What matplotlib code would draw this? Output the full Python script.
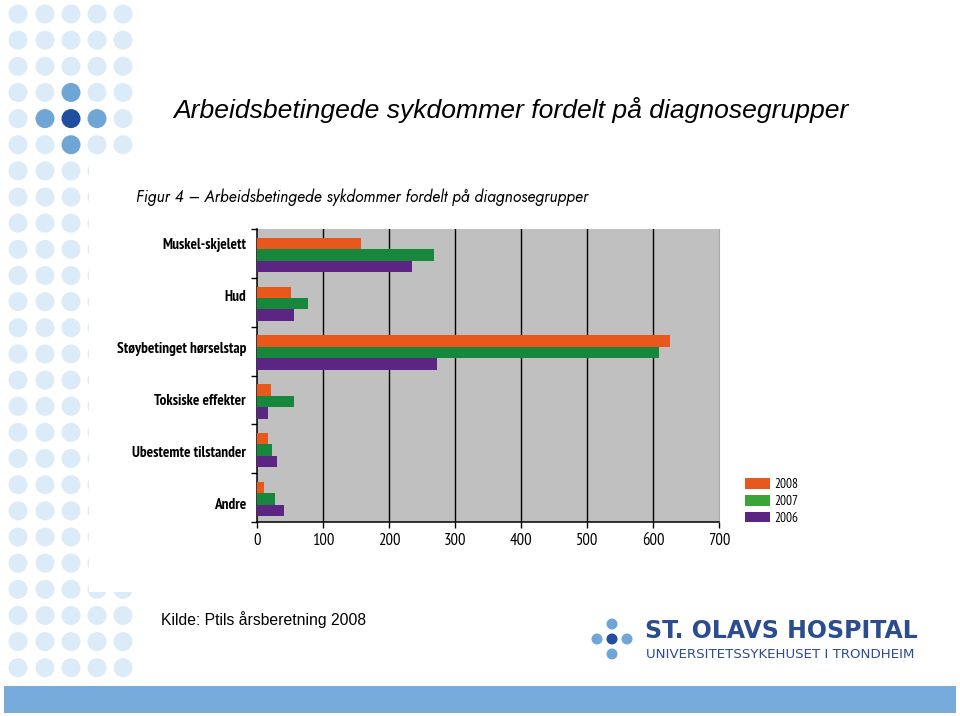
import matplotlib
matplotlib.use("Agg")
import matplotlib.pyplot as plt
from matplotlib.patches import Circle, Rectangle, Patch
import numpy as np

W, H = 960, 716

# data
categories = ["Muskel-skjelett", "Hud", "Støybetinget hørselstap",
              "Toksiske effekter", "Ubestemte tilstander", "Andre"]
years = ["2008", "2007", "2006"]
values_2008 = [157, 51, 626, 21, 17, 10]
values_2007 = [268, 78, 609, 56, 23, 28]
values_2006 = [235, 56, 273, 17, 30, 41]
x_ticks = [0, 100, 200, 300, 400, 500, 600, 700]

BAR_COLORS = ["#e8581d", "#17873b", "#5c2483"]
LEGEND_COLORS = ["#e8581d", "#38a536", "#5c2483"]
NARROW = ["PT Sans Narrow", "DejaVu Sans"]
ARIAL = ["Liberation Sans", "DejaVu Sans"]
GEOMETRIC = ["Jost", "DejaVu Sans"]


def fig_box(x0, y0, x1, y1):
    # pixel box (top-left origin) -> figure fraction
    return [x0 / W, 1 - y1 / H, (x1 - x0) / W, (y1 - y0) / H]


fig = plt.figure(figsize=(W / 100, H / 100), dpi=100)
fig.patch.set_facecolor("white")

# background layer in pixel coordinates
bg = fig.add_axes([0, 0, 1, 1], zorder=0)
bg.set_xlim(0, W)
bg.set_ylim(H, 0)
bg.axis("off")

# decorative dots
dot_cols = [18, 45, 71, 97, 123]
dot_rows = [14 + 26.15 * i for i in range(26)]
highlight = {(2, 3): "#6fa6d6", (1, 4): "#6fa6d6", (2, 4): "#1f4f9e",
             (3, 4): "#6fa6d6", (2, 5): "#6fa6d6"}
for ci, cx in enumerate(dot_cols):
    for ri, cy in enumerate(dot_rows):
        c = highlight.get((ci, ri), "#dcebf8")
        bg.add_patch(Circle((cx, cy), 9.5, facecolor=c, edgecolor="none"))

# white chart image area over the dots
bg.add_patch(Rectangle((89, 158), 771, 434, facecolor="white", edgecolor="none", zorder=3))

# bottom band
bg.add_patch(Rectangle((4, 686), 952, 27, facecolor="#76abdb", edgecolor="none", zorder=3))

# slide title
bg.text(173, 110, "Arbeidsbetingede sykdommer fordelt på diagnosegrupper",
        fontsize=19.05, style="italic", family=ARIAL, va="center", ha="left", zorder=5)

# figure title inside image
bg.text(136, 197, "Figur 4 – Arbeidsbetingede sykdommer fordelt på diagnosegrupper",
        fontsize=11.45, style="italic", family=GEOMETRIC, va="center",
        ha="left", zorder=5)

# source
bg.text(161, 620, "Kilde: Ptils årsberetning 2008", fontsize=11.3, family=ARIAL,
        va="center", ha="left", zorder=5)

# logo
logo_dots = [(612, 624, "#6fa6d6"), (597, 639, "#6fa6d6"), (612, 639, "#1f4f9e"),
             (627, 639, "#6fa6d6"), (612, 654, "#6fa6d6")]
for lx, ly, lc in logo_dots:
    bg.add_patch(Circle((lx, ly), 5.5, facecolor=lc, edgecolor="none", zorder=5))
bg.text(645, 631, "ST. OLAVS HOSPITAL", fontsize=17, fontweight="bold",
        family=["DejaVu Sans"], color="#2b4c8f", va="center", ha="left", zorder=5)
bg.text(646, 655, "UNIVERSITETSSYKEHUSET I TRONDHEIM", fontsize=9.6,
        family=["DejaVu Sans"], color="#2b4c8f", va="center", ha="left", zorder=5)

# chart
ax = fig.add_axes(fig_box(257, 229, 719, 522), zorder=2)
ax.set_facecolor("#c0c0c0")

y = np.arange(len(categories))
offsets = [-0.205, 0.03, 0.265]
bar_h = 0.235
for vals, off, col in zip([values_2008, values_2007, values_2006], offsets, BAR_COLORS):
    ax.barh(y + off, vals, height=bar_h, color=col, zorder=3)

ax.set_xlim(0, 700)
ax.set_ylim(len(categories) - 0.5, -0.5)
ax.set_xticks(x_ticks)
ax.set_xticklabels([str(t) for t in x_ticks], family=NARROW, fontsize=12)
ax.set_yticks(np.arange(len(categories) + 1) - 0.5)
ax.set_yticklabels([])
# labels in the source image sit slightly spread relative to the category bands
ax.set_yticks(y * 1.065 - 0.21, minor=True)
ax.set_yticklabels(categories, minor=True, family=NARROW, fontsize=11, fontweight="bold")
ax.tick_params(axis="y", which="minor", length=0, pad=8)
ax.tick_params(axis="y", which="major", length=4, width=1, color="black", direction="out")
ax.tick_params(axis="x", length=4, width=1, color="black", direction="out", pad=4)

ax.grid(axis="x", color="black", linewidth=1.0, zorder=1)
ax.set_axisbelow(True)
ax.xaxis.get_gridlines()[-1].set_visible(False)
ax.xaxis.get_gridlines()[0].set_visible(False)

ax.spines["top"].set_visible(False)
ax.spines["right"].set_color("#a8a8a8")
ax.spines["right"].set_linewidth(0.8)
ax.spines["left"].set_color("black")
ax.spines["left"].set_linewidth(1.1)
ax.spines["bottom"].set_color("black")
ax.spines["bottom"].set_linewidth(1.1)

handles = [Patch(facecolor=c, edgecolor="none") for c in LEGEND_COLORS]
fig.legend(handles, years, loc="upper left", bbox_to_anchor=(733 / W, 1 - 466 / H),
           frameon=False, handlelength=1.9, handleheight=0.85, handletextpad=0.35,
           labelspacing=0.3, prop={"family": NARROW, "size": 9.5})

fig.savefig("out.png", dpi=100, facecolor="white")
